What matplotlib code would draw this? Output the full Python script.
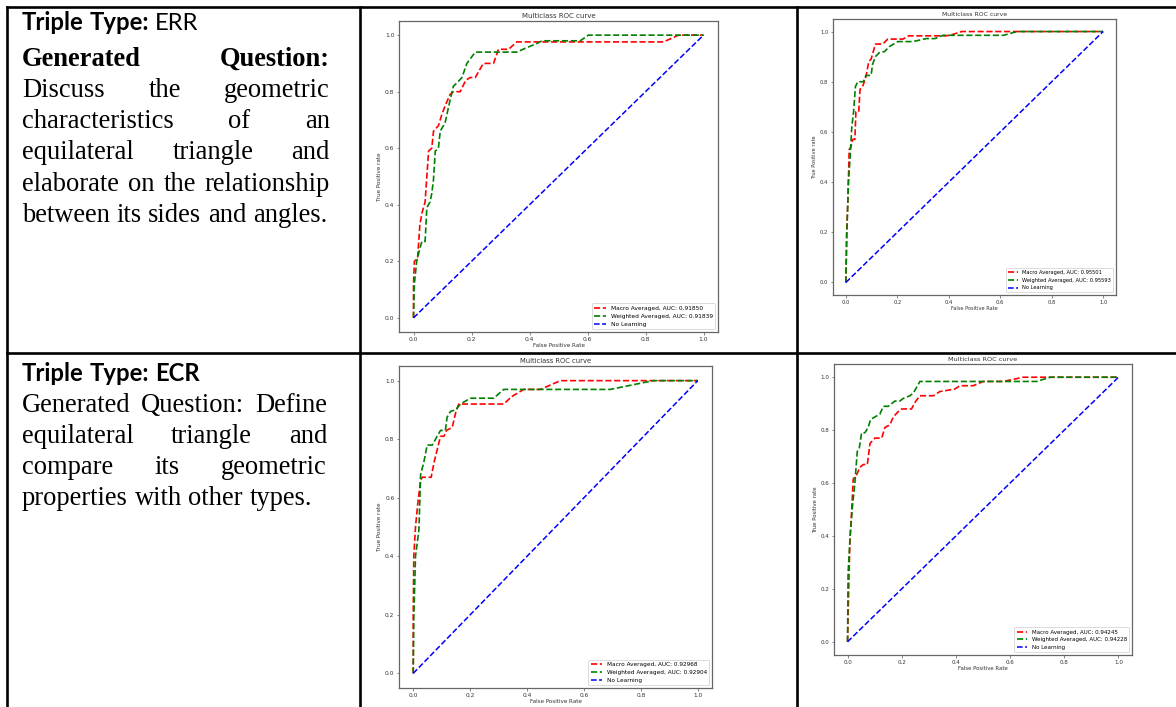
import matplotlib.pyplot as plt

W, H = 1176, 707

# ROC curves (fpr, tpr)
err1_macro_fpr = [0, 0, 0.003, 0.014, 0.022, 0.029, 0.040, 0.046, 0.052, 0.063, 0.069, 0.086, 0.098, 0.109, 0.126,
                  0.138, 0.161, 0.18, 0.195, 0.213, 0.235, 0.241, 0.276, 0.293, 0.328, 0.356, 0.862, 0.914, 1]
err1_macro_tpr = [0, 0.12, 0.20, 0.21, 0.33, 0.37, 0.41, 0.50, 0.59, 0.60, 0.66, 0.68, 0.72, 0.75, 0.79,
                  0.80, 0.80, 0.84, 0.85, 0.85, 0.89, 0.90, 0.90, 0.95, 0.95, 0.976, 0.976, 1.0, 1.0]
err1_weighted_fpr = [0, 0.003, 0.011, 0.023, 0.029, 0.040, 0.046, 0.057, 0.063, 0.069, 0.075, 0.086, 0.092, 0.109,
                     0.126, 0.138, 0.149, 0.167, 0.184, 0.213, 0.356, 0.391, 0.425, 0.443, 0.575, 0.603, 1]
err1_weighted_tpr = [0, 0.12, 0.20, 0.25, 0.27, 0.27, 0.39, 0.41, 0.44, 0.49, 0.59, 0.60, 0.66, 0.69,
                     0.77, 0.82, 0.83, 0.85, 0.90, 0.94, 0.94, 0.956, 0.97, 0.98, 0.98, 1.0, 1.0]

err2_macro_fpr = [0, 0.003, 0.008, 0.013, 0.020, 0.026, 0.035, 0.039, 0.050, 0.055, 0.065, 0.078, 0.089, 0.098,
                  0.115, 0.143, 0.163, 0.222, 0.245, 0.391, 0.417, 0.450, 1]
err2_macro_tpr = [0, 0.20, 0.33, 0.53, 0.54, 0.57, 0.57, 0.68, 0.68, 0.77, 0.78, 0.82, 0.88, 0.89,
                  0.95, 0.95, 0.97, 0.97, 0.983, 0.983, 0.989, 1.0, 1.0]
err2_weighted_fpr = [0, 0.004, 0.010, 0.016, 0.023, 0.030, 0.037, 0.046, 0.068, 0.078, 0.098, 0.104, 0.115, 0.130,
                     0.150, 0.169, 0.202, 0.261, 0.313, 0.346, 0.378, 0.613, 0.665, 1]
err2_weighted_tpr = [0, 0.20, 0.40, 0.49, 0.62, 0.68, 0.78, 0.80, 0.80, 0.825, 0.825, 0.87, 0.90, 0.916,
                     0.92, 0.94, 0.96, 0.96, 0.972, 0.972, 0.985, 0.985, 1.0, 1.0]

ecr1_macro_fpr = [0, 0, 0.002, 0.008, 0.016, 0.026, 0.032, 0.063, 0.073, 0.087, 0.096, 0.108, 0.117, 0.137,
                  0.149, 0.160, 0.318, 0.347, 0.388, 0.447, 0.517, 1]
ecr1_macro_tpr = [0, 0.20, 0.40, 0.50, 0.58, 0.66, 0.67, 0.67, 0.72, 0.775, 0.81, 0.81, 0.83, 0.84,
                  0.89, 0.92, 0.92, 0.946, 0.97, 0.97, 1.0, 1.0]
ecr1_weighted_fpr = [0, 0.002, 0.008, 0.020, 0.026, 0.037, 0.049, 0.067, 0.084, 0.096, 0.113, 0.119, 0.131, 0.149,
                     0.166, 0.201, 0.283, 0.318, 0.692, 0.844, 1]
ecr1_weighted_tpr = [0, 0.19, 0.40, 0.49, 0.68, 0.72, 0.78, 0.78, 0.81, 0.83, 0.83, 0.875, 0.895, 0.90,
                     0.92, 0.94, 0.94, 0.97, 0.97, 1.0, 1.0]

ecr2_macro_fpr = [0, 0.004, 0.009, 0.015, 0.021, 0.033, 0.046, 0.058, 0.073, 0.083, 0.101, 0.126, 0.138, 0.156,
                  0.169, 0.187, 0.200, 0.236, 0.249, 0.267, 0.317, 0.341, 0.366, 0.397, 0.415, 0.464, 0.501,
                  0.575, 0.649, 1]
ecr2_macro_tpr = [0, 0.19, 0.39, 0.49, 0.615, 0.63, 0.66, 0.67, 0.67, 0.75, 0.77, 0.77, 0.81, 0.82,
                  0.85, 0.87, 0.88, 0.88, 0.905, 0.93, 0.93, 0.946, 0.95, 0.956, 0.968, 0.968, 0.984,
                  0.984, 1.0, 1.0]
ecr2_weighted_fpr = [0, 0.002, 0.009, 0.018, 0.027, 0.036, 0.043, 0.052, 0.064, 0.076, 0.085, 0.101, 0.119, 0.132,
                     0.150, 0.175, 0.193, 0.206, 0.230, 0.243, 0.267, 0.698, 0.748, 1]
ecr2_weighted_tpr = [0, 0.26, 0.39, 0.51, 0.60, 0.72, 0.73, 0.79, 0.79, 0.81, 0.84, 0.85, 0.86, 0.89,
                     0.89, 0.91, 0.91, 0.92, 0.93, 0.94, 0.984, 0.984, 1.0, 1.0]

no_skill = [0, 1]

macro_auc = [0.91850, 0.95501, 0.92968, 0.94245]
weighted_auc = [0.91839, 0.95593, 0.92904, 0.94228]

# left column text, one list per rendered line
err_lines = [
    [("Triple", "sb"), ("Type:", "sb"), ("ERR", "s")],
    [("Generated", "rb"), ("Question:", "rb")],
    [("Discuss", "r"), ("the", "r"), ("geometric", "r")],
    [("characteristics", "r"), ("of", "r"), ("an", "r")],
    [("equilateral", "r"), ("triangle", "r"), ("and", "r")],
    [("elaborate", "r"), ("on", "r"), ("the", "r"), ("relationship", "r")],
    [("between", "r"), ("its", "r"), ("sides", "r"), ("and", "r"), ("angles.", "r")],
]
err_justify = [False, True, True, True, True, True, False]
ecr_lines = [
    [("Triple", "sb"), ("Type:", "sb"), ("ECR", "sb")],
    [("Generated", "r"), ("Question:", "r"), ("Define", "r")],
    [("equilateral", "r"), ("triangle", "r"), ("and", "r")],
    [("compare", "r"), ("its", "r"), ("geometric", "r")],
    [("properties", "r"), ("with", "r"), ("other", "r"), ("types.", "r")],
]
ecr_justify = [False, True, True, True, False]

fig = plt.figure(figsize=(W / 100, H / 100), dpi=100)
bg = fig.add_axes([0, 0, 1, 1])
bg.set_xlim(0, W)
bg.set_ylim(H, 0)
bg.axis('off')
renderer = fig.canvas.get_renderer()

styles = {
    'sb': dict(family='Lato', weight='bold'),
    's': dict(family='Lato'),
    'rb': dict(family='Liberation Serif', weight='bold'),
    'r': dict(family='Liberation Serif'),
}


def text_width(s, size, style):
    t = bg.text(0, 0, s, fontsize=size, **styles[style])
    w = t.get_window_extent(renderer).width
    t.remove()
    return w


# fit font sizes to the widths seen in the picture
sans_size = 10 * 178 / text_width("Triple Type: ECR", 10, 'sb')
serif_size = 10 * 306 / text_width("between its sides and angles.", 10, 'r')
sizes = {'sb': sans_size, 's': sans_size, 'rb': serif_size, 'r': serif_size}


def draw_line(words, y, x0, x1, justify):
    widths = [text_width(w, sizes[st], st) for w, st in words]
    x = x0
    for (w, st), wd in zip(words, widths):
        bg.text(x, y, w, fontsize=sizes[st], ha='left', va='baseline', color='black', **styles[st])
        if justify:
            gap = (x1 - x0 - sum(widths)) / (len(words) - 1)
        else:
            gap = text_width("a a", sizes[st], st) - text_width("aa", sizes[st], st)
        x += wd + gap


for words, y, j in zip(err_lines, [30, 66, 97, 128, 159, 191, 222], err_justify):
    draw_line(words, y, 22, 330, j)
for words, y, j in zip(ecr_lines, [381, 412, 443, 474, 505], ecr_justify):
    draw_line(words, y, 22, 327, j)

# table borders
lw = 1.9
bg.plot([7, 7], [7, H], color='black', lw=lw)
bg.plot([360, 360], [7, H], color='black', lw=lw)
bg.plot([797, 797], [7, H], color='black', lw=lw)
bg.plot([7, W], [7, 7], color='black', lw=lw)
bg.plot([7, W], [353, 353], color='black', lw=lw)


def roc_panel(box, macro, weighted, k):
    l, t, r, b = box
    ax = fig.add_axes([l / W, 1 - b / H, (r - l) / W, (b - t) / H])
    s = (r - l) / 319
    ax.plot(macro[0], macro[1], linestyle='--', color='red', lw=1.2,
            label=f'Macro Averaged, AUC: {macro_auc[k]:.5f}')
    ax.plot(weighted[0], weighted[1], linestyle='--', color='green', lw=1.2,
            label=f'Weighted Averaged, AUC: {weighted_auc[k]:.5f}')
    ax.plot(no_skill, no_skill, linestyle='--', color='blue', lw=1.1, label='No Learning')
    ax.set_xlim(-0.05, 1.05)
    ax.set_ylim(-0.05, 1.05)
    ticks = [0, 0.2, 0.4, 0.6, 0.8, 1.0]
    ax.set_xticks(ticks)
    ax.set_yticks(ticks)
    ax.set_title('Multiclass ROC curve', fontsize=5.0 * s, color='#333', pad=2)
    ax.set_xlabel('False Positive Rate', fontsize=4.1 * s, color='#333', labelpad=1)
    ax.set_ylabel('True Positive rate', fontsize=4.1 * s, color='#333', labelpad=2)
    ax.tick_params(labelsize=4.3 * s, length=1.8, width=0.5, colors='#555', labelcolor='#333', pad=1.5)
    for sp in ax.spines.values():
        sp.set_color('#666')
        sp.set_linewidth(0.9)
    leg = ax.legend(loc='lower right', fontsize=4.2 * s, handlelength=2)
    leg.get_frame().set_edgecolor('#cccccc')
    leg.get_frame().set_linewidth(0.6)
    return ax


roc_panel((399, 21, 718, 332), (err1_macro_fpr, err1_macro_tpr), (err1_weighted_fpr, err1_weighted_tpr), 0)
roc_panel((833, 19, 1116, 295), (err2_macro_fpr, err2_macro_tpr), (err2_weighted_fpr, err2_weighted_tpr), 1)
roc_panel((399, 366, 712, 688), (ecr1_macro_fpr, ecr1_macro_tpr), (ecr1_weighted_fpr, ecr1_weighted_tpr), 2)
roc_panel((834, 364, 1132, 655), (ecr2_macro_fpr, ecr2_macro_tpr), (ecr2_weighted_fpr, ecr2_weighted_tpr), 3)

fig.savefig('out.png', dpi=100)
